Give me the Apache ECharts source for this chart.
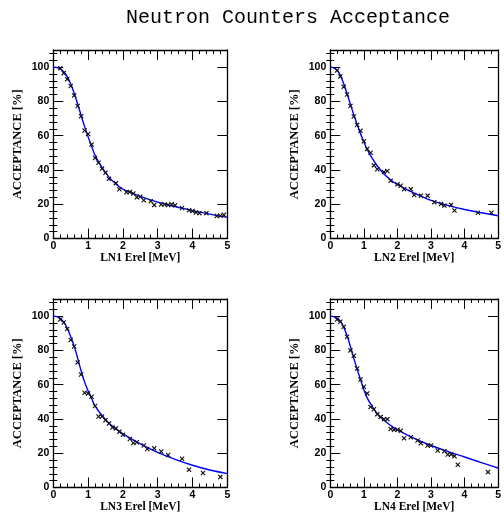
<!DOCTYPE html>
<html>
<head>
<meta charset="utf-8">
<title>Neutron Counters Acceptance</title>
<script src="https://cdn.jsdelivr.net/npm/echarts@6/dist/echarts.min.js"></script>
<style>
  html, body { margin: 0; padding: 0; background: #fff; }
  #chart { width: 504px; height: 518px; }
</style>
</head>
<body>
<div id="chart"></div>
<script>
// Measured acceptance per neutron counter (energy in MeV, acceptance in %)
const ln1Energy = [0.2,0.3,0.4,0.5,0.6,0.7,0.8,0.9,1.0,1.1,1.2,1.3,1.4,1.5,1.6,1.8,1.9,2.1,2.2,2.3,2.4,2.5,2.6,2.8,2.9,3.1,3.2,3.3,3.4,3.5,3.7,3.9,4.0,4.1,4.2,4.4,4.7,4.8,4.9];
const ln1Accept = [99.3,96.5,93,89,83.5,77.3,71.4,63,61,54.8,47,44.2,40.8,38.3,34.8,32.3,28.7,27,27.2,26.3,24,24.4,22.3,21.7,19.5,19.8,19.8,19.6,20,19.4,17.8,16.5,16,15.2,14.8,14.8,13.2,13.3,13.8];

const ln2Energy = [0.2,0.3,0.4,0.5,0.6,0.7,0.8,0.9,1.0,1.1,1.2,1.3,1.4,1.6,1.7,1.8,2.0,2.1,2.2,2.4,2.5,2.7,2.9,3.1,3.3,3.4,3.6,3.7,4.4,4.8];
const ln2Accept = [98,94.6,88.5,84,77.3,71.2,66.3,62.9,56.7,52.3,50,42.7,40.4,38.8,39.4,33.7,31.7,30.8,28.8,28.8,25.4,25,25,21.2,20.2,19.2,19.6,16.3,15,15];

const ln3Energy = [0.2,0.3,0.4,0.5,0.6,0.7,0.8,0.9,1.0,1.1,1.2,1.3,1.4,1.5,1.6,1.7,1.8,1.9,2.0,2.2,2.3,2.4,2.6,2.7,2.9,3.1,3.3,3.7,3.9,4.3,4.8];
const ln3Accept = [98,96.3,92.5,86.1,82.3,73,65.9,55.3,54.9,53,47.6,41.4,41.4,39.3,37.4,35,34.5,32.6,30.8,28.3,26,26.4,24.5,22.5,22.9,21,19,16.8,10.4,8.5,6.2];

const ln4Energy = [0.2,0.3,0.4,0.5,0.6,0.7,0.8,0.9,1.0,1.1,1.2,1.3,1.4,1.5,1.6,1.7,1.8,1.9,2.0,2.1,2.2,2.4,2.6,2.7,2.9,3.0,3.2,3.4,3.5,3.6,3.7,3.8,4.7];
const ln4Accept = [98,96.7,93.8,88,80,76.9,69.4,63,58.8,54.9,47,45.7,42.8,41.2,39.9,39.9,34.1,33.7,33.7,33.1,28.7,29.3,27.4,25.8,24.5,24.5,21.6,21.2,19.3,19.3,18.3,13.3,9];

// Fitted acceptance curves, sampled on a common energy grid
const fitEnergy = [0,0.1,0.2,0.3,0.4,0.5,0.6,0.7,0.8,0.9,1.0,1.1,1.2,1.4,1.6,1.8,2.0,2.5,3.0,3.5,4.0,4.5,5.0];
const ln1Fit = [100,99.8,99,97.3,94.5,90.3,84.8,78.5,71.8,65.3,59.3,54,48.5,41.5,35.8,31.8,28.8,24.6,21.2,18.6,16.3,14.2,12.3];
const ln2Fit = [100,99.6,98.3,95.2,90.3,84.5,78.3,72.2,66.5,61.2,56.3,52,48.3,42.3,37.7,34.2,31.4,26.5,22.3,19.3,16.9,15,13.3];
const ln3Fit = [100,99.7,98.8,96.5,93,88,82.5,75.5,68,61.5,56.5,52,47.6,42,37.5,34.2,31.3,25.5,20.5,16.4,13,10.2,8.1];
const ln4Fit = [100,99.7,98.8,97,93.6,88.5,82.3,75.5,69,63,57,52.3,48.8,43,39.2,36.2,33.6,28.7,24.5,21,17.8,14.5,11.4];

// Axis ticks and labels
const energyTicks = [0,1,2,3,4,5];
const acceptMajor = [0,20,40,60,80,100];
const acceptMinor = [4,8,12,16,24,28,32,36,44,48,52,56,64,68,72,76,84,88,92,96,104,108];
const counterNames = ['LN1','LN2','LN3','LN4'];

const energies = [ln1Energy, ln2Energy, ln3Energy, ln4Energy];
const accepts = [ln1Accept, ln2Accept, ln3Accept, ln4Accept];
const fits = [ln1Fit, ln2Fit, ln3Fit, ln4Fit];

const chart = echarts.init(document.getElementById('chart'), null, { renderer: 'canvas' });

const frameLeft = [53.3, 330.3, 53.3, 330.3];
const frameTop = [50, 50, 299, 299];
const frameW = 174, frameH = 188.5;

const lineStyle = { color: '#000', width: 1.3 };
const tickFont = { color: '#000', fontFamily: 'Liberation Sans', fontWeight: 'bold', fontSize: 10.5 };
const nameFont = { color: '#000', fontFamily: 'Liberation Serif', fontWeight: 'bold' };
const crossPath = 'path://M0,1.6L1.6,0L5,3.4L8.4,0L10,1.6L6.6,5L10,8.4L8.4,10L5,6.6L1.6,10L0,8.4L3.4,5Z';

const grid = [], xAxis = [], yAxis = [], series = [];

for (let i = 0; i < 4; i++) {
  grid.push({ left: frameLeft[i], top: frameTop[i], width: frameW, height: frameH, show: false });

  const xBase = {
    gridIndex: i, type: 'value', min: 0, max: 5, interval: 1,
    axisLine: { show: true, onZero: false, lineStyle },
    axisTick: { show: true, inside: true, length: 10, lineStyle: { color: '#000', width: 1 }, customValues: energyTicks },
    minorTick: { show: true, splitNumber: 5, length: 4, lineStyle: { color: '#000', width: 1 } },
    splitLine: { show: false }, minorSplitLine: { show: false }
  };
  // bottom axis with labels
  xAxis.push(Object.assign({}, xBase, {
    position: 'bottom',
    axisLabel: Object.assign({ show: true, margin: 2, customValues: energyTicks }, tickFont),
    name: counterNames[i] + ' Erel [MeV]',
    nameLocation: 'middle', nameGap: 6,
    nameTextStyle: Object.assign({ fontSize: 11.5 }, nameFont)
  }));
  // mirrored top axis
  xAxis.push(Object.assign({}, xBase, { position: 'top', axisLabel: { show: false } }));

  const yBase = {
    gridIndex: i, type: 'value', min: 0, max: 110, interval: 20,
    axisLine: { show: true, onZero: false, lineStyle },
    axisTick: { show: true, inside: true, length: 10, lineStyle: { color: '#000', width: 1 }, customValues: acceptMajor },
    splitLine: { show: false }
  };
  yAxis.push(Object.assign({}, yBase, {
    position: 'left',
    axisLabel: Object.assign({ show: true, margin: 4, customValues: acceptMajor }, tickFont),
    name: 'ACCEPTANCE [%]',
    nameLocation: 'middle', nameGap: 29,
    nameTextStyle: Object.assign({ fontSize: 12.5 }, nameFont)
  }));
  yAxis.push(Object.assign({}, yBase, { position: 'right', axisLabel: { show: false } }));
  // minor ticks on both vertical sides
  const yMinor = {
    gridIndex: i, type: 'value', min: 0, max: 110, interval: 20,
    axisLine: { show: false },
    axisTick: { show: true, inside: true, length: 4, lineStyle: { color: '#000', width: 1 }, customValues: acceptMinor },
    axisLabel: { show: false }, splitLine: { show: false }
  };
  yAxis.push(Object.assign({}, yMinor, { position: 'left' }));
  yAxis.push(Object.assign({}, yMinor, { position: 'right' }));

  series.push({
    type: 'line', xAxisIndex: i * 2, yAxisIndex: i * 4,
    data: fitEnergy.map((e, k) => [e, fits[i][k]]),
    smooth: 0.35, showSymbol: false, symbol: 'none',
    lineStyle: { color: '#0000ff', width: 1.4 }, silent: true, z: 2
  });
  series.push({
    type: 'scatter', xAxisIndex: i * 2, yAxisIndex: i * 4,
    data: energies[i].map((e, k) => [e, accepts[i][k]]),
    symbol: crossPath, symbolSize: 5,
    itemStyle: { color: '#111', opacity: 1 }, silent: true, z: 3
  });
}

chart.setOption({
  animation: false,
  backgroundColor: '#fff',
  grid, xAxis, yAxis, series,
  graphic: [{
    type: 'text', x: 288, y: 18,
    style: {
      text: 'Neutron Counters Acceptance',
      font: '20px "Liberation Mono", monospace',
      fill: '#000', textAlign: 'center', textVerticalAlign: 'middle'
    }
  }]
});
</script>
</body>
</html>
